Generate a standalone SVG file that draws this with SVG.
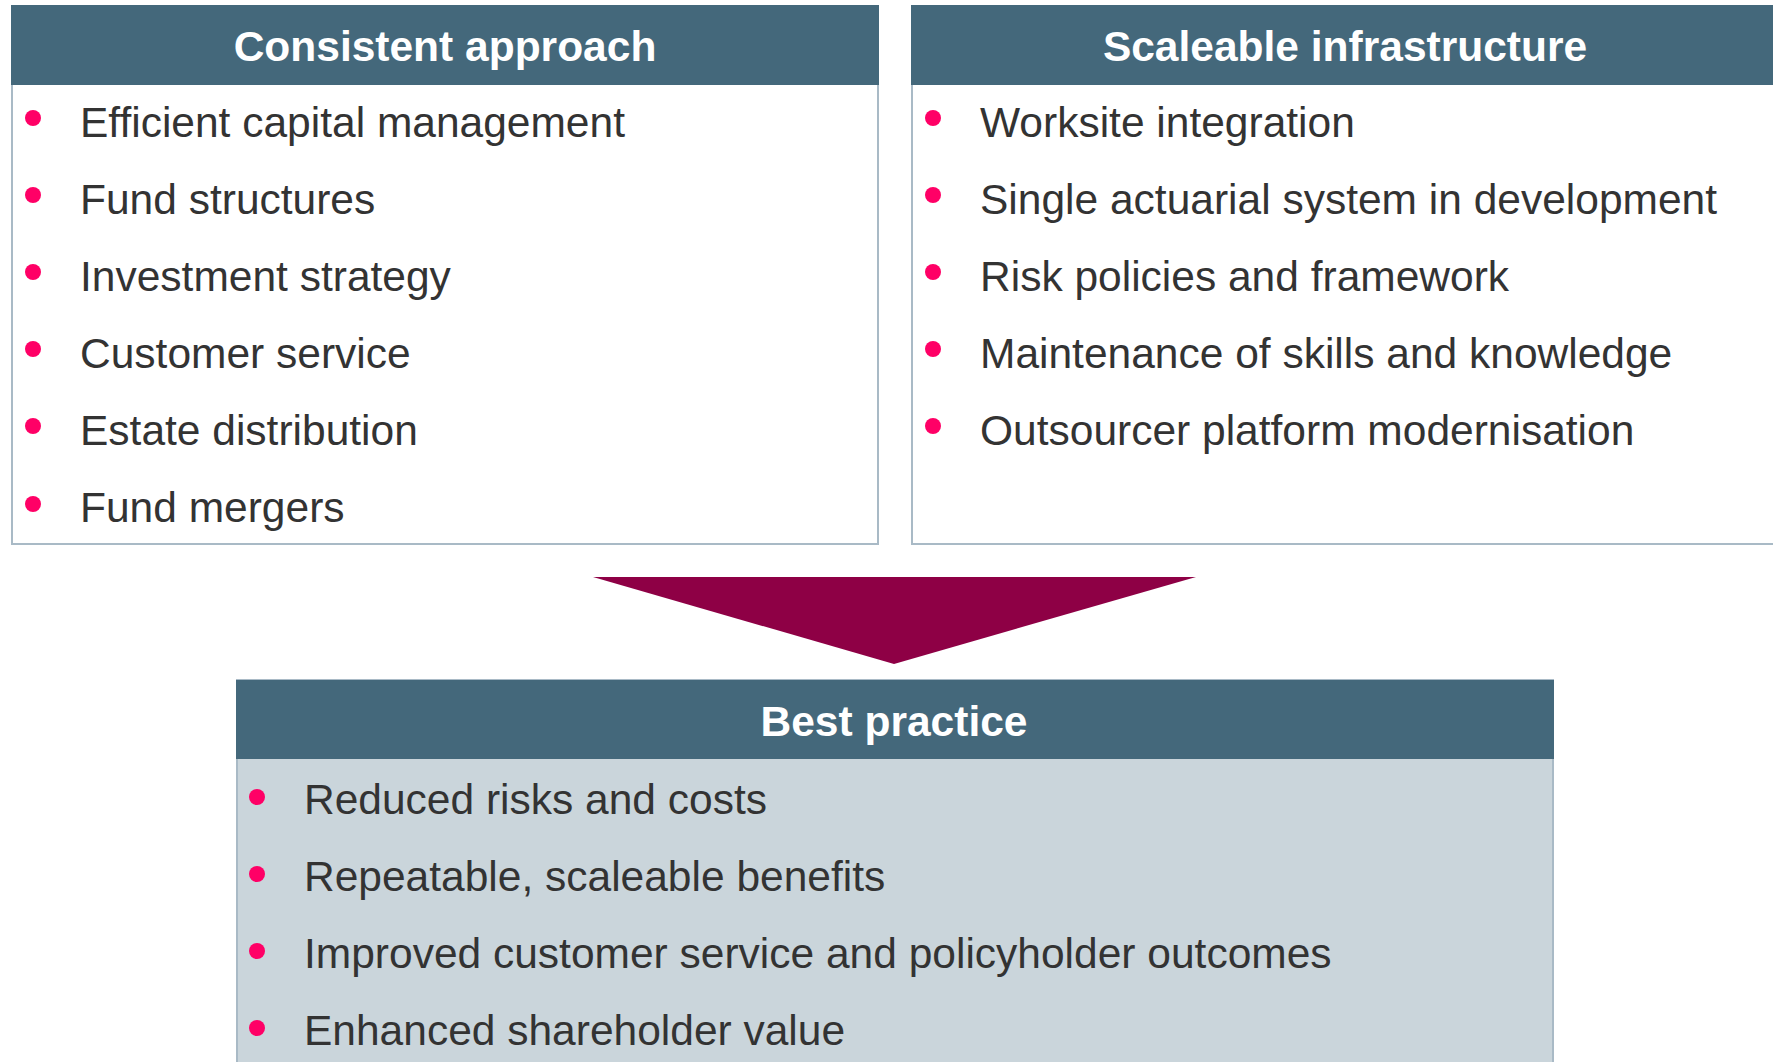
<svg xmlns="http://www.w3.org/2000/svg" width="1773" height="1062" viewBox="0 0 1773 1062">
<style>
.box{fill:#ffffff;stroke:#a9bac6;stroke-width:2}
.boxg{fill:#cad5db;stroke:#a9bac6;stroke-width:2}
.hdr{fill:#44687b}
.ht{font-family:"Liberation Sans",Arial,sans-serif;font-weight:bold;font-size:42.5px;fill:#ffffff;text-anchor:middle}
.it{font-family:"Liberation Sans",Arial,sans-serif;font-size:42.5px;fill:#333333}
.bul{fill:#ff0066}
</style>
<rect width="1773" height="1062" fill="#ffffff"/>
<g id="consistent-approach">
<rect class="box" x="12" y="6" width="866" height="538"/>
<rect class="hdr" x="11" y="5" width="868" height="80"/>
<text class="ht" x="445" y="61">Consistent approach</text>
<circle class="bul" cx="33" cy="118" r="8"/><text class="it" x="80" y="137">Efficient capital management</text>
<circle class="bul" cx="33" cy="195" r="8"/><text class="it" x="80" y="214">Fund structures</text>
<circle class="bul" cx="33" cy="272" r="8"/><text class="it" x="80" y="291">Investment strategy</text>
<circle class="bul" cx="33" cy="349" r="8"/><text class="it" x="80" y="368">Customer service</text>
<circle class="bul" cx="33" cy="426" r="8"/><text class="it" x="80" y="445">Estate distribution</text>
<circle class="bul" cx="33" cy="504" r="8"/><text class="it" x="80" y="522">Fund mergers</text>
</g>
<g id="scaleable-infrastructure">
<rect class="box" x="912" y="6" width="880" height="538"/>
<rect class="hdr" x="911" y="5" width="862" height="80"/>
<text class="ht" x="1345" y="61">Scaleable infrastructure</text>
<circle class="bul" cx="933" cy="118" r="8"/><text class="it" x="980" y="137">Worksite integration</text>
<circle class="bul" cx="933" cy="195" r="8"/><text class="it" x="980" y="214">Single actuarial system in development</text>
<circle class="bul" cx="933" cy="272" r="8"/><text class="it" x="980" y="291">Risk policies and framework</text>
<circle class="bul" cx="933" cy="349" r="8"/><text class="it" x="980" y="368">Maintenance of skills and knowledge</text>
<circle class="bul" cx="933" cy="426" r="8"/><text class="it" x="980" y="445">Outsourcer platform modernisation</text>
</g>
<g id="connectors">
<polygon points="593,577 1196,577 894,664" fill="#8e0045"/>
</g>
<g id="best-practice">
<rect class="boxg" x="237" y="680" width="1316" height="400"/>
<rect class="hdr" x="236" y="680" width="1318" height="79"/>
<text class="ht" x="894" y="736">Best practice</text>
<circle class="bul" cx="257" cy="797" r="8"/><text class="it" x="304" y="814">Reduced risks and costs</text>
<circle class="bul" cx="257" cy="874" r="8"/><text class="it" x="304" y="891">Repeatable, scaleable benefits</text>
<circle class="bul" cx="257" cy="951" r="8"/><text class="it" x="304" y="968">Improved customer service and policyholder outcomes</text>
<circle class="bul" cx="257" cy="1028" r="8"/><text class="it" x="304" y="1045">Enhanced shareholder value</text>
</g>
</svg>
